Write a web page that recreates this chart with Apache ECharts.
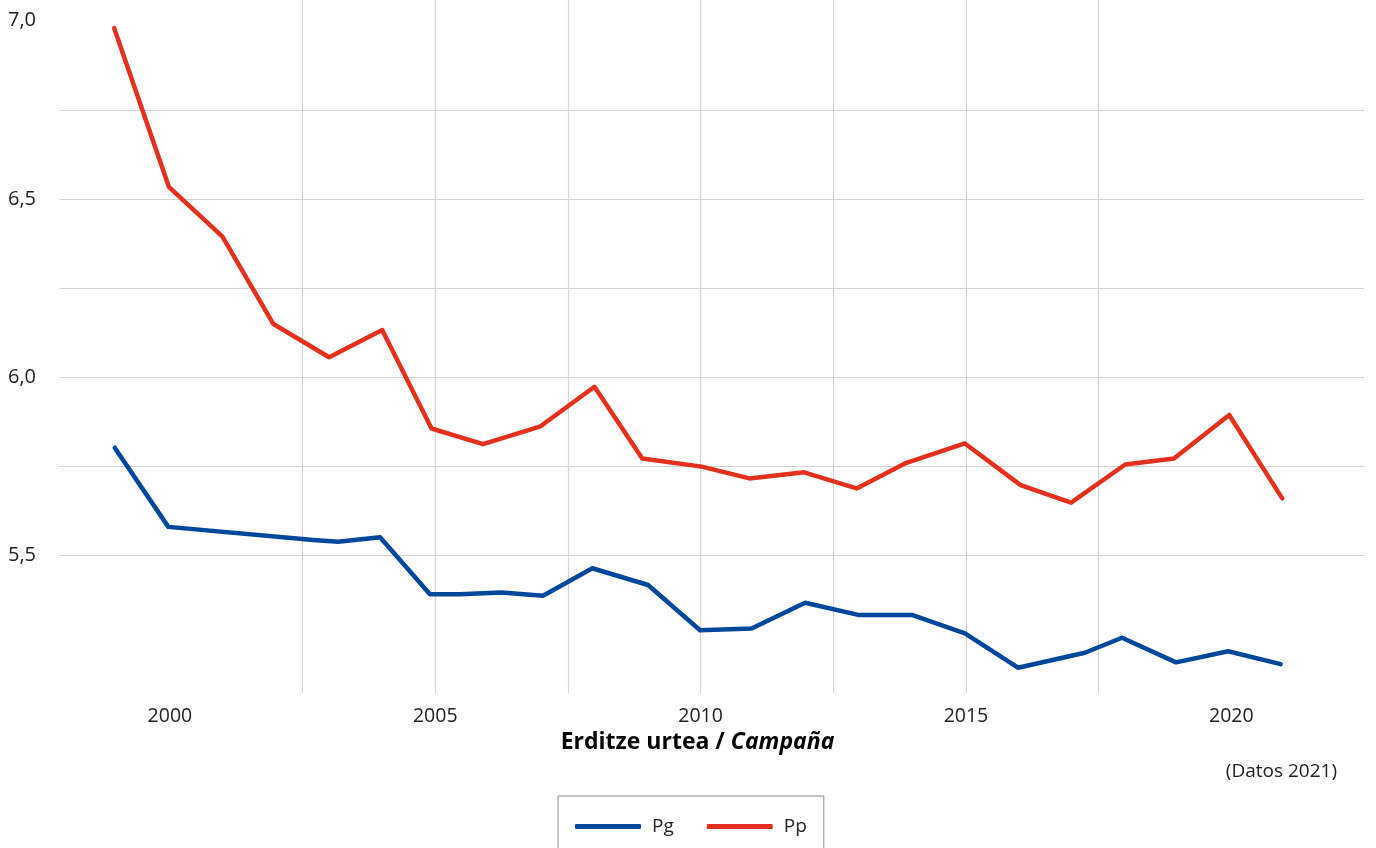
<!DOCTYPE html>
<html>
<head>
<meta charset="utf-8">
<script src="https://cdn.jsdelivr.net/npm/echarts@6/dist/echarts.min.js"></script>
<style>
html,body{margin:0;padding:0;background:#fff;}
#chart{width:1376px;height:848px;}
</style>
</head>
<body>
<div id="chart"></div>
<script>
// Data (x in decimal years)
const pgYears = [1998.96, 1999.97, 2002.70, 2003.17, 2003.96, 2004.90, 2005.46, 2006.25, 2007.03, 2007.96, 2009.01, 2009.99, 2010.96, 2011.97, 2012.97, 2013.98, 2014.98, 2015.98, 2017.24, 2017.94, 2018.96, 2019.94, 2020.93];
const pgValues = [5.802, 5.580, 5.543, 5.538, 5.551, 5.391, 5.391, 5.396, 5.387, 5.464, 5.417, 5.290, 5.295, 5.367, 5.333, 5.333, 5.281, 5.185, 5.227, 5.269, 5.200, 5.231, 5.195];
const ppYears = [1998.95, 1999.98, 2000.99, 2001.95, 2003.00, 2004.00, 2004.93, 2005.90, 2006.97, 2008.00, 2008.90, 2010.02, 2010.92, 2011.95, 2012.94, 2013.85, 2014.98, 2016.03, 2016.98, 2018.00, 2018.92, 2019.96, 2020.96];
const ppValues = [6.979, 6.534, 6.394, 6.149, 6.056, 6.132, 5.856, 5.812, 5.861, 5.973, 5.772, 5.749, 5.716, 5.733, 5.688, 5.758, 5.814, 5.697, 5.648, 5.755, 5.772, 5.894, 5.660];

const xGridTicks = [2000, 2002.5, 2005, 2007.5, 2010, 2012.5, 2015, 2017.5, 2020];
const xLabelTicks = [2000, 2005, 2010, 2015, 2020];
const yGridTicks = [5.25, 5.5, 5.75, 6.0, 6.25, 6.5, 6.75, 7.0];
const yLabelTicks = [5.5, 6.0, 6.5, 7.0];
const seriesNames = ['Pg', 'Pp'];
const caption = '(Datos 2021)';

const FONT = '"Open Sans", "Noto Sans", sans-serif';
const chart = echarts.init(document.getElementById('chart'), null, {renderer: 'canvas'});

chart.setOption({
  animation: false,
  backgroundColor: '#ffffff',
  textStyle: {fontFamily: FONT},
  grid: {left: 59, right: 12, top: 0, bottom: 155, containLabel: false},
  xAxis: {
    type: 'value',
    min: 1997.91,
    max: 2022.5,
    axisLine: {show: false},
    axisTick: {show: false, customValues: xGridTicks},
    splitLine: {show: true, showMinLine: false, showMaxLine: false, lineStyle: {color: '#d4d4d4', width: 1.2}},
    axisLabel: {customValues: xLabelTicks, color: '#222', fontSize: 19.5, fontFamily: FONT, margin: 13,
      formatter: v => String(Math.round(v))},
    name: '{a|Erditze urtea / }{b|Campaña}',
    nameLocation: 'middle',
    nameGap: 37,
    nameTextStyle: {
      padding: [0, 28, 0, 0],
      rich: {
        a: {fontSize: 23, fontWeight: 'bold', color: '#000', fontFamily: FONT},
        b: {fontSize: 23, fontWeight: 'bold', fontStyle: 'italic', color: '#000', fontFamily: FONT}
      }
    }
  },
  yAxis: {
    type: 'value',
    min: 5.114,
    max: 7.058,
    axisLine: {show: false},
    axisTick: {show: false, customValues: yGridTicks},
    splitLine: {show: true, showMinLine: false, showMaxLine: false, lineStyle: {color: '#d4d4d4', width: 1.2}},
    axisLabel: {customValues: yLabelTicks, color: '#222', fontSize: 20, fontFamily: FONT, margin: 23,
      formatter: v => v.toFixed(1).replace('.', ',')}
  },
  title: {
    text: caption,
    right: 34,
    top: 757,
    textStyle: {fontSize: 19, fontWeight: 'normal', color: '#222', fontFamily: FONT}
  },
  legend: {
    left: 558,
    top: 796,
    orient: 'horizontal',
    data: seriesNames,
    icon: 'roundRect',
    itemWidth: 66,
    itemHeight: 5,
    itemGap: 33,
    padding: [21, 17, 30, 17],
    borderColor: '#8a8a8a',
    borderWidth: 1,
    textStyle: {fontSize: 19, color: '#222', fontFamily: FONT, padding: [0, 0, 0, 6]}
  },
  series: [
    {
      name: seriesNames[0],
      type: 'line',
      data: pgYears.map((x, i) => [x, pgValues[i]]),
      symbol: 'none',
      lineStyle: {color: '#00469a', width: 4.5, cap: 'round', join: 'round'},
      itemStyle: {color: '#00469a'}
    },
    {
      name: seriesNames[1],
      type: 'line',
      data: ppYears.map((x, i) => [x, ppValues[i]]),
      symbol: 'none',
      lineStyle: {color: '#e3301f', width: 4.5, cap: 'round', join: 'round'},
      itemStyle: {color: '#e3301f'}
    }
  ]
});
</script>
</body>
</html>
